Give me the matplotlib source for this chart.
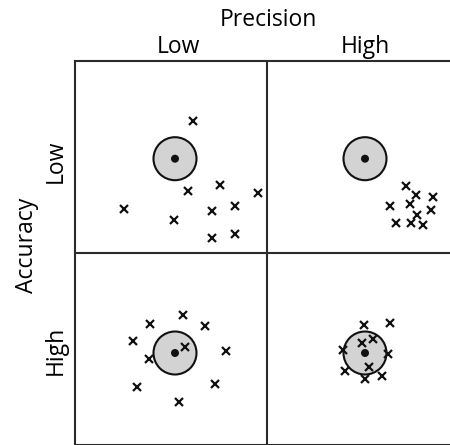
import matplotlib.pyplot as plt
from matplotlib.patches import Circle

# column / row labels
precision_labels = ['Low', 'High']
accuracy_labels = ['Low', 'High']

# target centres (pixel units, y grows downward)
target_x = [175, 365]
target_y = [158.7, 353]

# shot offsets from the target centre, one list per cell (row, col)
shots_dx = {
    (0, 0): [18.3, 13.3, 45, 82.7, -50.7, -0.7, 36.7, 60.3, 36.7, 60.3],
    (0, 1): [41.4, 50.7, 67.7, 24.7, 45, 65.7, 51.7, 30.7, 46.4, 58],
    (1, 0): [8, -25, 30, -41.7, 10, 51.3, -25.7, -38.3, 40, 4.3],
    (1, 1): [-1, 25.4, 8, -3, -21.6, 23.4, 3.7, -20.3, 16.7, 0],
}
shots_dy = {
    (0, 0): [-38, 32, 26.6, 34.3, 50, 61, 52.6, 47.3, 79.6, 75.3],
    (0, 1): [27, 36.3, 38, 47.3, 45.3, 51, 56.3, 64, 64.6, 66],
    (1, 0): [-37.7, -28.7, -26.7, -12, -6.3, -2, 6.3, 33.7, 31.3, 49.3],
    (1, 1): [-27.7, -30.3, -14.3, -10, -3.3, 1, 14, 18.3, 23, 26.3],
}

plt.rcParams['font.family'] = ['Open Sans', 'DejaVu Sans']

fig = plt.figure(figsize=(4.5, 4.45), dpi=100)
ax = fig.add_axes([0, 0, 1, 1])
ax.set_xlim(0, 450)
ax.set_ylim(445, 0)
ax.axis('off')

# grid box
edge = '#2b2b2b'
xs = [75, 267, 459]
ys = [61, 253, 445]
for x in xs:
    ax.plot([x, x], [ys[0], ys[-1]], color=edge, lw=1.5, solid_capstyle='projecting')
for y in ys:
    ax.plot([xs[0], xs[-1]], [y, y], color=edge, lw=1.5, solid_capstyle='projecting')

for r in range(2):
    for c in range(2):
        cx, cy = target_x[c], target_y[r]
        ax.add_patch(Circle((cx, cy), 21.5, facecolor='#d3d3d3', edgecolor='#111111', lw=1.5, zorder=2))
        ax.add_patch(Circle((cx, cy), 4, facecolor='#111111', edgecolor='none', zorder=3))
        px = [cx + d for d in shots_dx[(r, c)]]
        py = [cy + d for d in shots_dy[(r, c)]]
        ax.plot(px, py, 'x', color='#111111', ms=5.8, mew=1.6, zorder=4)

fs = 16.5
col_pos = [178, 365]
row_pos = [161, 350]
ax.text(268, 26, 'Precision', ha='center', va='baseline', fontsize=fs)
for c, lab in enumerate(precision_labels):
    ax.text(col_pos[c], 53, lab, ha='center', va='baseline', fontsize=fs)
ax.text(33, 245, 'Accuracy', ha='center', va='baseline', rotation=90,
        rotation_mode='anchor', fontsize=fs)
for r, lab in enumerate(accuracy_labels):
    ax.text(62, row_pos[r], lab, ha='center', va='baseline', rotation=90,
            rotation_mode='anchor', fontsize=fs)

fig.savefig('out.png', dpi=100)
